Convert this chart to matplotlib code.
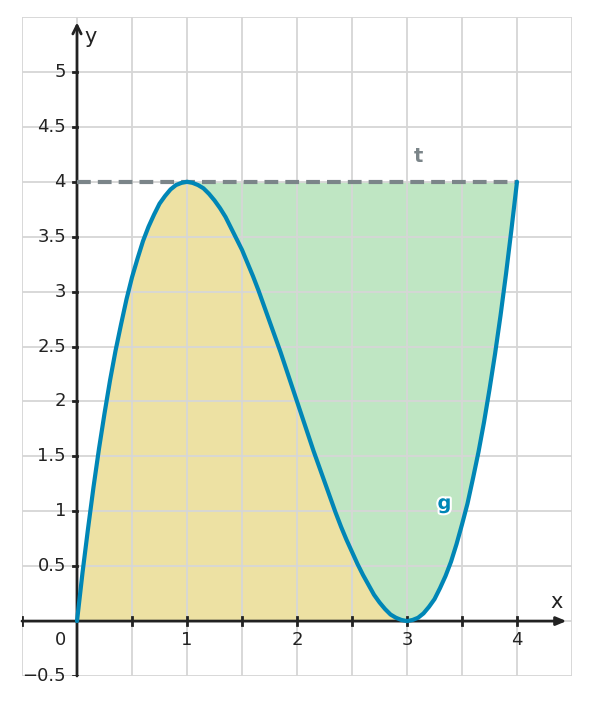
import matplotlib
matplotlib.use("Agg")
import matplotlib.pyplot as plt
import matplotlib.patheffects as pe
import numpy as np

# curve g, step 0.05 from x=0 to x=4
g_x = [round(0.05 * i, 2) for i in range(81)]
g_y = [0.00, 0.44, 0.84, 1.22, 1.57, 1.89, 2.19, 2.46, 2.70, 2.93,
       3.13, 3.30, 3.46, 3.59, 3.70, 3.80, 3.87, 3.93, 3.97, 3.99,
       4.00, 3.99, 3.97, 3.94, 3.89, 3.83, 3.76, 3.68, 3.58, 3.48,
       3.38, 3.26, 3.14, 3.01, 2.87, 2.73, 2.59, 2.45, 2.30, 2.15,
       2.00, 1.85, 1.70, 1.55, 1.41, 1.27, 1.13, 0.99, 0.86, 0.74,
       0.63, 0.52, 0.42, 0.33, 0.24, 0.17, 0.11, 0.06, 0.03, 0.01,
       0.00, 0.01, 0.03, 0.07, 0.13, 0.20, 0.30, 0.41, 0.54, 0.70,
       0.88, 1.07, 1.30, 1.54, 1.81, 2.11, 2.43, 2.78, 3.16, 3.57,
       4.00]
t_level = 4.0
t_x = [0, 4]

x_ticks = [1, 2, 3, 4]
y_ticks = [-0.5, 0.5, 1, 1.5, 2, 2.5, 3, 3.5, 4, 4.5, 5]
y_labels = ["\u22120.5", "0.5", "1", "1.5", "2", "2.5", "3", "3.5", "4", "4.5", "5"]

BLUE = "#0086b6"
GREY = "#7b8589"
AXC = "#222222"

fig = plt.figure(figsize=(5.89, 7.05), dpi=100)
ax = fig.add_axes([22 / 589, 29 / 705, 550 / 589, 659 / 705])
ax.set_xlim(-0.5, 4.5)
ax.set_ylim(-0.5, 5.5)
for s in ax.spines.values():
    s.set_visible(False)
ax.set_xticks([])
ax.set_yticks([])

# grid
for gx in np.arange(-0.5, 4.51, 0.5):
    ax.axvline(gx, color="#d6d6d6", lw=1.3, zorder=3)
for gy in np.arange(-0.5, 5.51, 0.5):
    ax.axhline(gy, color="#d6d6d6", lw=1.3, zorder=3)

gx_arr = np.array(g_x)
gy_arr = np.array(g_y)
ax.fill_between(gx_arr, 0, gy_arr, where=gx_arr <= 3, color="#ede1a3", lw=0, zorder=1)
ax.fill_between(gx_arr, gy_arr, t_level, where=gx_arr >= 1, color="#bfe6c3", lw=0, zorder=1)

# axes
ax.annotate("", xy=(4.45, 0), xytext=(-0.5, 0),
            arrowprops=dict(arrowstyle="-|>,head_length=0.6,head_width=0.25", color=AXC, lw=2,
                            shrinkA=0, shrinkB=0), zorder=5)
ax.annotate("", xy=(0, 5.45), xytext=(0, -0.5),
            arrowprops=dict(arrowstyle="->,head_length=0.6,head_width=0.3", color=AXC, lw=2,
                            shrinkA=0, shrinkB=0), zorder=5)
ax.text(4.36, 0.08, "x", fontsize=15, color=AXC, ha="center", va="bottom")
ax.text(0.07, 5.32, "y", fontsize=15, color=AXC, ha="left", va="center")

# ticks
for xv in np.arange(0.5, 4.01, 0.5):
    ax.plot([xv, xv], [-0.035, 0.035], color=AXC, lw=2, zorder=5)
ax.plot([-0.5, -0.5], [-0.035, 0.035], color=AXC, lw=2, zorder=5)
for xv in x_ticks:
    ax.text(xv, -0.09, str(xv), fontsize=13, color=AXC, ha="center", va="top")
ax.text(-0.1, -0.09, "0", fontsize=13, color=AXC, ha="right", va="top")
for yv, lab in zip(y_ticks, y_labels):
    ax.plot([-0.04, 0], [yv, yv], color=AXC, lw=2, zorder=5)
    ax.text(-0.1, yv, lab, fontsize=13, color=AXC, ha="right", va="center")

# t and g
ax.plot(t_x, [t_level, t_level], color=GREY, lw=3, ls=(0, (3.3, 1.7)), zorder=6)
ax.plot(gx_arr, gy_arr, color=BLUE, lw=3, zorder=7, solid_capstyle="round", solid_joinstyle="round")
ax.text(3.1, 4.23, "t", fontsize=14, fontweight="bold", color=GREY, ha="center", va="center", zorder=8)
ax.text(3.34, 1.07, "g", fontsize=14, fontweight="bold", color=BLUE, ha="center", va="center", zorder=8,
        path_effects=[pe.withStroke(linewidth=3, foreground="white")])

fig.savefig("out.png", dpi=100)
